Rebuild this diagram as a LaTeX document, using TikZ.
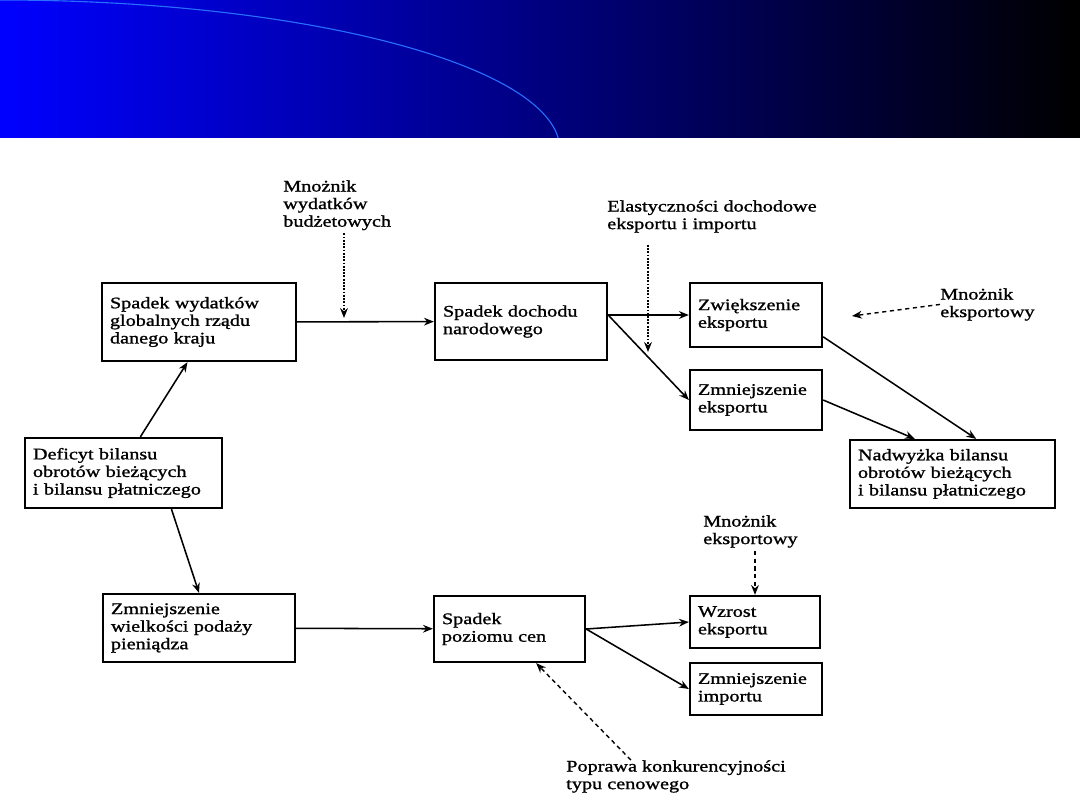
\documentclass[tikz,border=0pt]{standalone}
\usepackage{fontspec}
\setmainfont[FakeStretch=1.25, FakeBold=1.2]{Liberation Serif}
\usetikzlibrary{arrows.meta}
\definecolor{arcblue}{RGB}{40,110,255}
\newcommand{\diagfont}{\fontsize{11.5}{12.5}\selectfont}

\begin{document}
\begin{tikzpicture}[x=0.025cm, y=-0.025cm, >={Stealth[length=7pt,width=5.5pt]},
    box/.style={draw, line width=1.6pt, inner xsep=0.2cm, inner ysep=1pt, align=left, font=\diagfont},
    lbl/.style={inner sep=0pt, align=left, anchor=north west, font=\diagfont},
    link/.style={->, line width=1.1pt},
    dotlink/.style={->, line width=1.3pt, densely dotted},
    dashlink/.style={->, line width=1pt, dash pattern=on 3pt off 2.5pt}]

% page and header band
\useasboundingbox (0,0) rectangle (1080,810);
\fill[white] (0,0) rectangle (1080,810);
\shade[left color=blue, right color=black] (0,0) rectangle (1080,137);
\begin{scope}
    \clip (0,0) rectangle (1080,137);
    \draw[arcblue, line width=0.8pt] (0,150) ellipse [x radius=560, y radius=150];
\end{scope}

% upper path
\node[box, text width=4.45cm, minimum height=1.95cm] (wydatki) at (199,322) {Spadek wydatków\\globalnych rządu\\danego kraju};
\node[box, text width=3.9cm, minimum height=1.925cm] (dochod) at (521,321.5) {Spadek dochodu\\narodowego};
\node[box, text width=2.9cm, minimum height=1.6cm] (wiekszy) at (756,315) {Zwiększenie\\eksportu};
\node[box, text width=2.9cm, minimum height=1.5cm] (mniejszy) at (756,400) {Zmniejszenie\\eksportu};
\node[box, text width=4.725cm, minimum height=1.7cm] (nadwyzka) at (952.5,474) {Nadwyżka bilansu\\obrotów bieżących\\i bilansu płatniczego};

% start
\node[box, text width=4.525cm, minimum height=1.75cm] (deficyt) at (123.5,473) {Deficyt bilansu\\obrotów bieżących\\i bilansu płatniczego};

% lower path
\node[box, text width=4.4cm, minimum height=1.7cm] (podaz) at (199,628) {Zmniejszenie\\wielkości podaży\\pieniądza};
\node[box, text width=3.375cm, minimum height=1.65cm] (ceny) at (509.5,629) {Spadek\\poziomu cen};
\node[box, text width=2.85cm, minimum height=1.3cm] (wzrost) at (755,622) {Wzrost\\eksportu};
\node[box, text width=2.9cm, minimum height=1.3cm] (import) at (756,689) {Zmniejszenie\\importu};

% side labels
\node[lbl] (mnwyd) at (283,180) {Mnożnik\\wydatków\\budżetowych};
\node[lbl] (elast) at (607,200) {Elastyczności dochodowe\\eksportu i importu};
\node[lbl] (mnexa) at (940,288) {Mnożnik\\eksportowy};
\node[lbl] (mnexb) at (703,515) {Mnożnik\\eksportowy};
\node[lbl] (popr) at (566,760) {Poprawa konkurencyjności\\typu cenowego};

\coordinate (wydtip) at (344,318);
\coordinate (elasttip) at (648,352);
\coordinate (mnextip) at (852,316);

% solid arrows
\draw[link] (deficyt.65) -- (wydatki.-106);
\draw[link] (deficyt.-37) -- (podaz.north);
\draw[link] (wydatki) -- (dochod);
\draw[link] (dochod.east |- wiekszy.west) -- (wiekszy.west);
\draw[link] (dochod.east |- wiekszy.west) -- (mniejszy.west);
\draw[link] (wiekszy.-18) -- (nadwyzka.56);
\draw[link] (mniejszy.east) -- (nadwyzka.137);
\draw[link] (podaz) -- (ceny);
\draw[link] (ceny.east) -- (wzrost.west);
\draw[link] (ceny.east) -- (import.west);

% multipliers and other influences
\draw[dotlink] (wydtip |- mnwyd.south) ++(0,3) -- (wydtip);
\draw[dotlink] (elast.south -| elasttip) ++(0,12) -- (elasttip);
\draw[dashlink] (mnexa.west) -- (mnextip);
\draw[dashlink] (wzrost.north |- mnexb.south) ++(0,3) -- (wzrost.north);
\draw[dashlink] (popr.160) -- (ceny.-52);

\end{tikzpicture}
\end{document}
